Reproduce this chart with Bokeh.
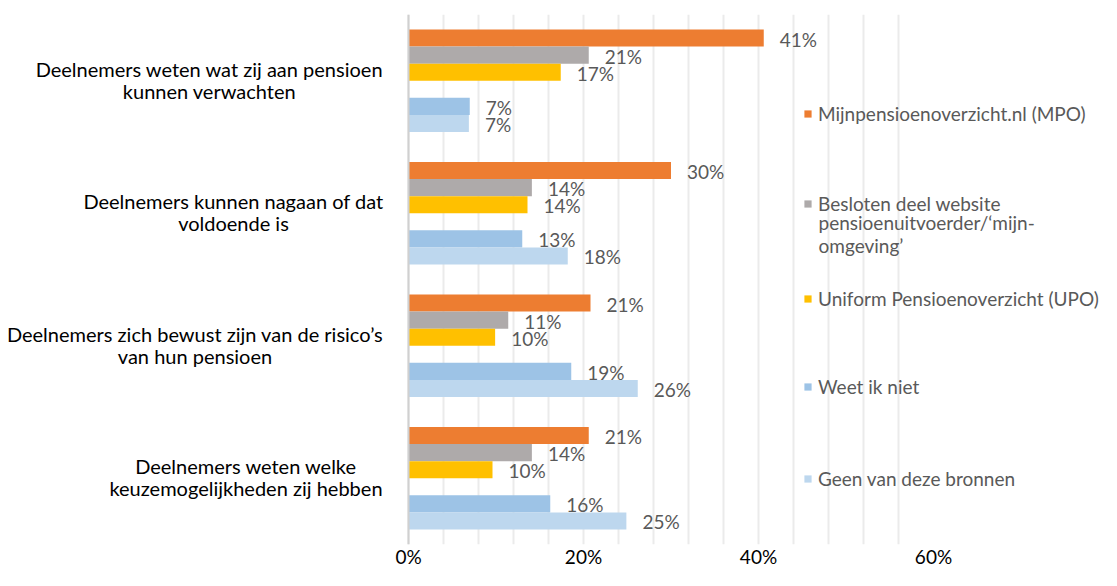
from bokeh.plotting import figure
from bokeh.models import (FactorRange, Range1d, FixedTicker, PrintfTickFormatter,
                          ColumnDataSource, Legend, LegendItem, Label, Span)
from bokeh.transform import dodge
from bokeh.embed import file_html
from bokeh.resources import INLINE
from bokeh.core.properties import value

# ---------------- data ----------------
categories = [
    "Deelnemers weten wat zij aan pensioen\nkunnen verwachten",
    "Deelnemers kunnen nagaan of dat\nvoldoende is",
    "Deelnemers zich bewust zijn van de risico\u2019s\nvan hun pensioen",
    "Deelnemers weten welke\nkeuzemogelijkheden zij hebben",
]
series_names = [
    "Mijnpensioenoverzicht.nl (MPO)",
    "Besloten deel website\npensioenuitvoerder/\u2018mijn-\nomgeving\u2019",
    "Uniform Pensioenoverzicht (UPO)",
    "Weet ik niet",
    "Geen van deze bronnen",
]
mpo = [40.6, 30.0, 20.8, 20.6]
besloten = [20.6, 14.1, 11.4, 14.1]
upo = [17.4, 13.6, 9.9, 9.6]
weet = [7.0, 13.0, 18.6, 16.2]
geen = [6.9, 18.2, 26.2, 24.9]
x_ticks = [0, 20, 40, 60]

# ---------------- style / layout ----------------
colors = ["#ED7D31", "#AEAAAA", "#FFC000", "#9DC3E6", "#BDD7EE"]
slots = [0, 1, 2, 4, 5]          # slot 3 is an empty gap in each group
bar_h = 0.129
FONT = "Lato"
FS_TXT = "20px"
FS_NUM = "19px"
FS_LEG = "19px"
W, H = 1100, 570
LEFT, TOP, BOTTOM = 408, 14, 21   # position of the value axis / frame edges (px)
PX_PER_PCT = 8.75
CAT_GAP = 26                       # gap between category label block and axis
CAT_HALF_W = [173, 149, 187.5, 136.5]   # half widths of the label blocks (px)

keys = ["mpo", "besloten", "upo", "weet", "geen"]
data = dict(cat=categories, mpo=mpo, besloten=besloten, upo=upo, weet=weet, geen=geen)
for k in keys:
    data[k + "_lbl"] = [f"{round(v)}%" for v in data[k]]
src = ColumnDataSource(data)

p = figure(width=W, height=H,
           y_range=FactorRange(*reversed(categories)),
           x_range=Range1d(-LEFT / PX_PER_PCT, (W - LEFT) / PX_PER_PCT),
           output_backend="svg", toolbar_location=None,
           min_border_left=0, min_border_right=0,
           min_border_top=TOP, min_border_bottom=BOTTOM)

renderers = []
for k, c, s in zip(keys, colors, slots):
    off = (2.5 - s) * bar_h
    r = p.hbar(y=dodge("cat", off, range=p.y_range), left=0, right=k, height=bar_h,
               source=src, fill_color=c, line_color=None)
    renderers.append(r)
    p.text(x=k, y=dodge("cat", off, range=p.y_range), text=k + "_lbl", source=src,
           x_offset=16, y_offset=1, text_baseline="middle", text_align="left",
           text_font=value(FONT), text_font_size=FS_NUM, text_color="#595959")

# category labels (two centred lines, block right-aligned next to the axis)
cat_src = ColumnDataSource(dict(cat=categories,
                                xoff=[-(CAT_GAP + hw) for hw in CAT_HALF_W]))
p.text(x=0, y="cat", text="cat", source=cat_src, x_offset="xoff", y_offset=-1,
       text_align="center", text_baseline="middle", text_line_height=0.9,
       text_font=value(FONT), text_font_size=FS_TXT, text_color="#000000")

# value axis line
p.add_layout(Span(location=0, dimension="height", line_color="#D0D0D0", line_width=2))
p.yaxis.visible = False

# x axis
p.xaxis.ticker = FixedTicker(ticks=x_ticks)
p.xaxis.formatter = PrintfTickFormatter(format="%d%%")
p.xaxis.axis_line_color = None
p.xaxis.major_tick_line_color = None
p.xaxis.minor_tick_line_color = None
p.xaxis.major_tick_out = 0
p.xaxis.major_label_standoff = 0
p.xaxis.major_label_text_font = FONT
p.xaxis.major_label_text_font_size = FS_NUM
p.xaxis.major_label_text_color = "#000000"

p.xgrid.ticker = FixedTicker(ticks=list(range(0, 60, 4)))
p.xgrid.grid_line_color = "#EBEBEB"
p.xgrid.grid_line_width = 2
p.ygrid.grid_line_color = None
p.outline_line_color = None

# legend: one small legend per entry (entries are unevenly spaced in the original)
frame_h = H - TOP - BOTTOM
leg_x = 803          # px, left of the legend squares
item_h = 24
line_centers = [118, 208, 303, 391, 483]    # y of each entry's first line, from top
for name, r, yc in zip(series_names, renderers, line_centers):
    lines = name.split("\n")
    lg = Legend(items=[LegendItem(label=lines[0], renderers=[r])],
                location=(leg_x, frame_h - (yc - TOP) - item_h / 2),
                glyph_width=9, glyph_height=9, label_standoff=6,
                padding=0, margin=0, spacing=0, label_height=item_h,
                label_text_font=FONT, label_text_font_size=FS_LEG,
                label_text_color="#595959", label_text_line_height=1.0,
                background_fill_alpha=0, border_line_alpha=0)
    p.add_layout(lg)
    for j, extra in enumerate(lines[1:], start=1):
        p.add_layout(Label(x=leg_x + 15, y=frame_h - (yc - 4 + j * 23 - TOP),
                           x_units="screen", y_units="screen", text=extra,
                           text_baseline="middle", text_align="left",
                           text_font=FONT, text_font_size=FS_LEG,
                           text_color="#595959"))

open("out.html", "w").write(file_html(p, INLINE))
